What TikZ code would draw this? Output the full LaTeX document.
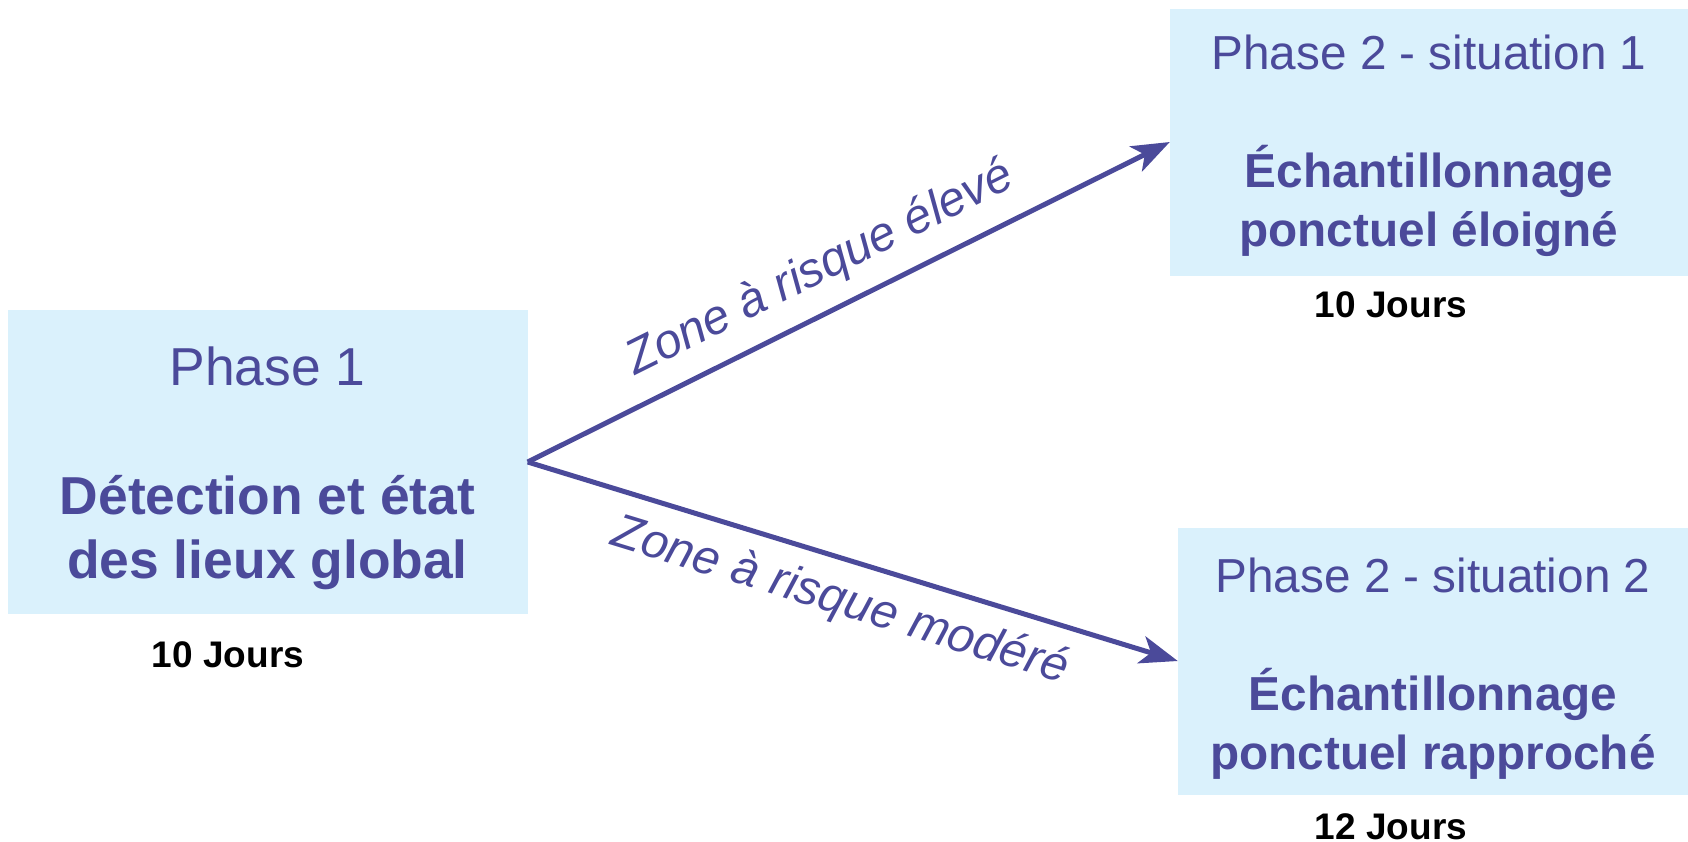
\documentclass[tikz,border=0pt]{standalone}
\usepackage{fontspec}
\setmainfont{Liberation Sans}
\usetikzlibrary{arrows.meta,calc}
\definecolor{ink}{HTML}{4B4A9A}
\definecolor{boxfill}{HTML}{DAF1FC}
\begin{document}
\begin{tikzpicture}[x=1pt,y=1pt,
  phasebox/.style={fill=boxfill, draw=none, inner sep=0pt, align=center, text=ink},
  flow/.style={draw=ink, line width=5pt, -{Stealth[length=38pt,width=28pt,inset=10pt]}},
  risk/.style={text=ink, font=\fontsize{48.5}{58}\selectfont\itshape},
  days/.style={font=\fontsize{37}{44}\selectfont\bfseries, text=black}]
\useasboundingbox (0,0) rectangle (1688,-841);
\node[phasebox, minimum width=520pt, minimum height=304pt, font=\fontsize{53.4}{64.1}\selectfont] (p1) at (267.5,-462)
  {\rule{0pt}{51.5pt}Phase 1\\[65pt]\textbf{Détection et état}\\\textbf{des lieux global}};
\node[phasebox, minimum width=518pt, minimum height=267pt, font=\fontsize{47.7}{59}\selectfont] (p21) at (1429,-142)
  {\rule{0pt}{41.5pt}Phase 2 - situation 1\\[59pt]\textbf{Échantillonnage}\\\textbf{ponctuel éloigné}};
\node[phasebox, minimum width=510pt, minimum height=267pt, font=\fontsize{47.7}{59}\selectfont] (p22) at (1433,-661)
  {\rule{0pt}{50pt}Phase 2 - situation 2\\[59pt]\textbf{Échantillonnage}\\\textbf{ponctuel rapproché}};
\node[days] (d1) at (228,-654.5) {10 Jours};
\node[days] (d21) at (1391,-304.6) {10 Jours};
\node[days] (d22) at (1391,-826.8) {12 Jours};
\draw[flow] (p1.east) -- node[risk, sloped, pos=0.485, anchor=base, yshift=29pt] (l1) {Zone à risque élevé} (p21.west);
\draw[flow] (p1.east) -- node[risk, sloped, pos=0.50, anchor=base, yshift=-55pt] (l2) {Zone à risque modéré} (p22.west);
\end{tikzpicture}
\end{document}
